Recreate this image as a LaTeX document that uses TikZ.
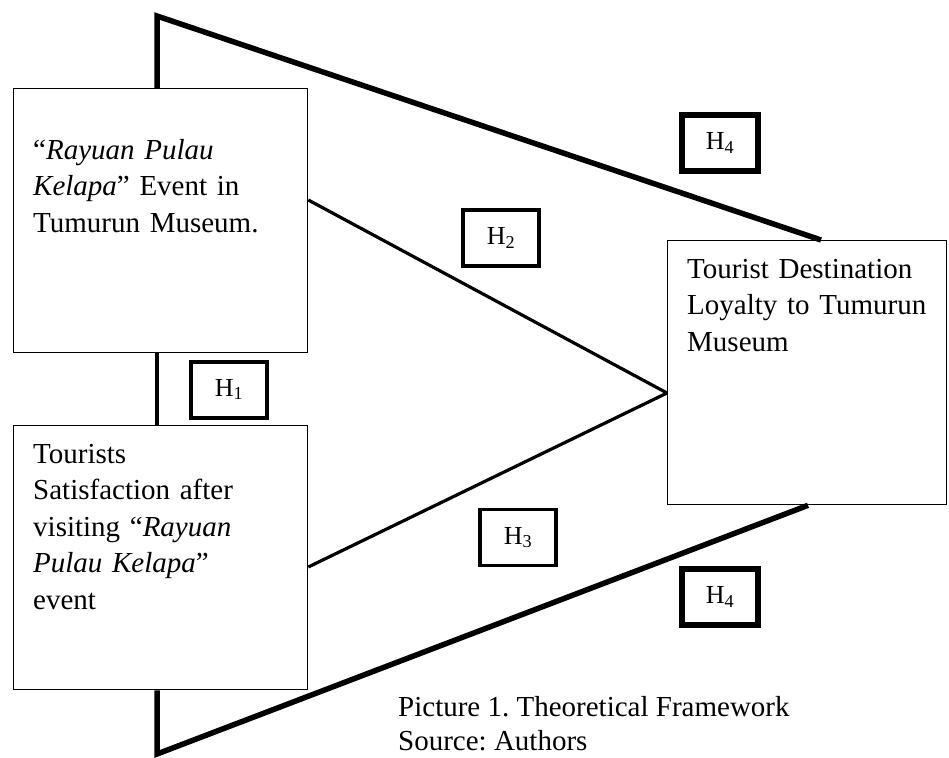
\documentclass[tikz,border=0pt]{standalone}
\usepackage{fontspec}
\setmainfont{Liberation Serif}
\usetikzlibrary{calc}
\frenchspacing
\tikzset{
  frame/.style={draw, line width=1.3pt, inner sep=0pt, anchor=north west,
    minimum width=294pt, minimum height=264pt},
  boxtext/.style={anchor=north west, inner sep=0pt, text width=280pt, align=left,
    font=\fontsize{29}{36.5}\selectfont},
  hyp/.style={draw, inner sep=0pt, minimum width=76pt, minimum height=56pt,
    font=\fontsize{26}{30}\selectfont},
  thinlink/.style={line width=3.2pt},
  thicklink/.style={line width=5.5pt},
  midlink/.style={line width=3.5pt},
  captext/.style={anchor=base west, inner sep=0pt, font=\fontsize{29}{35}\selectfont}
}
\begin{document}
\begin{tikzpicture}[x=1pt,y=-1pt]
\useasboundingbox (0,0) rectangle (949,757);
% main boxes
\node[frame] (A) at (13,88) {};
\node[frame] (B) at (13,425) {};
\node[frame, minimum width=279pt] (C) at (667,240) {};
% box texts
\node[boxtext] (At) at (33,139) {“\textit{Rayuan Pulau}\\\textit{Kelapa}” Event in\\Tumurun Museum.};
\node[boxtext] (Bt) at (33,444) {Tourists\\Satisfaction after\\visiting “\textit{Rayuan}\\\textit{Pulau Kelapa}”\\event};
\node[boxtext, text width=260pt] (Ct) at (687,259) {Tourist Destination\\Loyalty to Tumurun\\Museum};
% coordinates
\coordinate (TL) at (157,16);
\coordinate (BL) at (157,754);
\coordinate (Ctop) at ($(C.north west)+(154,0)$);
\coordinate (Cbot) at ($(C.south west)+(141,0)$);
\coordinate (Apex) at ($(C.north west)+(0,153)$);
% connectors
\draw[thicklink] (TL |- A.north) -- (TL) -- (Ctop);
\draw[thicklink] (TL |- B.south) -- (BL) -- (Cbot);
\draw[midlink] (TL |- A.south) -- (TL |- B.north);
\draw[thinlink] ($(A.north east)+(0,112)$) -- (Apex);
\draw[thinlink] ($(B.north east)+(0,142)$) -- (Apex);
% hypothesis boxes
\node[hyp, line width=4pt] (H1) at (229,389.5) {H\textsubscript{1}};
\node[hyp, line width=3.3pt] (H2) at (501,238) {H\textsubscript{2}};
\node[hyp, line width=3.3pt] (H3) at (518,537.5) {H\textsubscript{3}};
\node[hyp, line width=5.3pt] (H4a) at (720,143) {H\textsubscript{4}};
\node[hyp, line width=5.3pt] (H4b) at (720,597) {H\textsubscript{4}};
% caption
\node[captext] (cap1) at (398,716) {Picture 1. Theoretical Framework};
\node[captext] (cap2) at (398,750) {Source: Authors};
\end{tikzpicture}
\end{document}
